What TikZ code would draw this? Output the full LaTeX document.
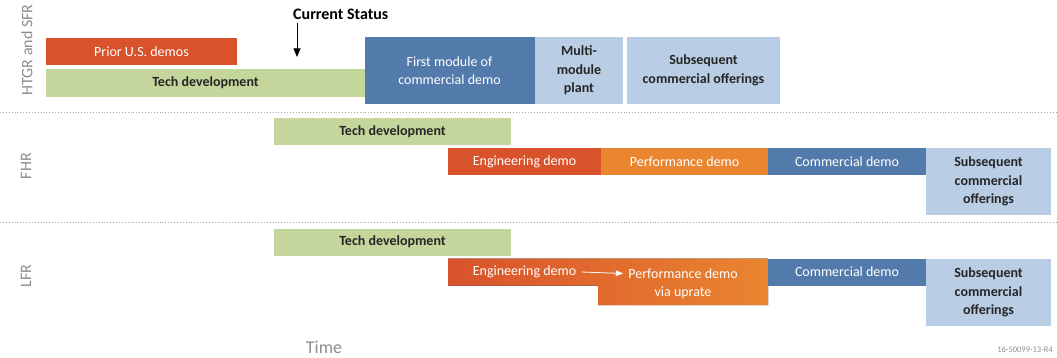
\documentclass[tikz,border=0pt]{standalone}
\usepackage{fontspec}
\setmainfont{Carlito}
\usepackage{xcolor}
\usetikzlibrary{arrows.meta,positioning}
\definecolor{demored}{RGB}{216,82,43}
\definecolor{perforange}{RGB}{234,133,48}
\definecolor{techgreen}{RGB}{196,214,155}
\definecolor{commblue}{RGB}{82,122,170}
\definecolor{offerblue}{RGB}{185,205,228}
\definecolor{labelgray}{RGB}{140,140,140}
\newcommand{\barfont}{\fontsize{14}{18.5}\selectfont}
\tikzset{
  phasebar/.style={rectangle, inner sep=0pt, outer sep=0pt, align=center, font=\barfont},
  techbar/.style={phasebar, fill=techgreen, text=black!85, font=\barfont\bfseries},
  redbar/.style={phasebar, fill=demored, text=white},
  orangebar/.style={phasebar, fill=perforange, text=white},
  bluebar/.style={phasebar, fill=commblue, text=white},
  offerbar/.style={phasebar, fill=offerblue, text=black!85, font=\barfont\bfseries},
  rowsep/.style={draw=black!35, dotted, line width=0.9pt},
}

\begin{document}
\begin{tikzpicture}[
    x=1pt, y=-1pt,
    rowlabel/.style={rotate=90, text=labelgray, font=\fontsize{16}{18}\selectfont, inner sep=0pt},
    statuslabel/.style={font=\fontsize{16}{18}\selectfont\bfseries, text=black, inner sep=0pt},
    statusarrow/.style={-{Triangle[length=3mm,width=2.4mm]}, draw=black, line width=0.9pt},
    shapetext/.style={text=white, font=\barfont, inner sep=5pt},
    uprarrow/.style={-{Triangle[length=2.6mm,width=2mm]}, draw=white, line width=0.8pt},
    timelabel/.style={text=labelgray, font=\fontsize{18}{20}\selectfont, inner sep=0pt},
    codelabel/.style={text=labelgray, font=\fontsize{8.5}{10}\selectfont, inner sep=0pt}
  ]
  \useasboundingbox (0,0) rectangle (1057,358);

  % ============ Row labels ============
  \node[rowlabel] (htgrlabel) at (27,50)  {HTGR and SFR};
  \node[rowlabel] (fhrlabel)  at (26,166) {FHR};
  \node[rowlabel] (lfrlabel)  at (26,276) {LFR};

  % ============ Row separators (dotted) ============
  \coordinate (sepaleft)  at (0,112);
  \coordinate (separight) at (1057,112);
  \coordinate (sepbleft)  at (0,222);
  \coordinate (sepbright) at (1057,222);
  \draw[rowsep] (sepaleft) -- (separight);
  \draw[rowsep] (sepbleft) -- (sepbright);

  % ============ Row 1: HTGR and SFR ============
  \node[redbar, minimum width=191pt, minimum height=27pt]   (htgrprior)  at (141.5,51.5) {Prior U.S.\ demos};
  \node[techbar, minimum width=319pt, minimum height=28pt]  (htgrtech)   at (205.5,83)   {Tech development};
  \node[bluebar, minimum width=170pt, minimum height=67pt]  (htgrfirst)  at (449.5,70.5) {First module of\\commercial demo};
  \node[offerbar, minimum width=88pt, minimum height=67pt]  (htgrmulti)  at (579,70.5)   {Multi-\\module\\plant};
  \node[offerbar, minimum width=153pt, minimum height=67pt] (htgrsubseq) at (703.5,70.5) {Subsequent\\commercial offerings};

  % current status marker
  \node[statuslabel, anchor=west] (status) at (293,14) {Current Status};
  \coordinate (statusfoot) at (297,23);
  \coordinate (statustip)  at (297,57);
  \draw[statusarrow] (statusfoot) -- (statustip);

  % ============ Row 2: FHR ============
  \node[techbar, minimum width=237pt, minimum height=27pt]   (fhrtech)   at (392.5,132)   {Tech development};
  \node[redbar, minimum width=153pt, minimum height=27pt]   (fhreng)    at (524.5,162)   {Engineering demo};
  \node[orangebar, minimum width=167pt, minimum height=27pt] (fhrperf)  at (684.5,162)   {Performance demo};
  \node[bluebar, minimum width=158pt, minimum height=27pt]  (fhrcomm)   at (847,162)     {Commercial demo};
  \node[offerbar, minimum width=125pt, minimum height=67pt] (fhrsubseq) at (988.5,181.5) {Subsequent\\commercial\\offerings};

  % ============ Row 3: LFR ============
  \node[techbar, minimum width=237pt, minimum height=27pt]  (lfrtech)   at (392.5,242)   {Tech development};

  % engineering demo stepping into performance demo (one shaded piece)
  \fill[left color=demored, right color=perforange]
    (448,258.5) -- (768,258.5) -- (768,305) -- (598,305) -- (598,285.5) -- (448,285.5) -- cycle;
  \node[shapetext] (lfreng)    at (524.5,272)   {Engineering demo};
  \node[shapetext] (lfrperf)   at (683,273.5)   {Performance demo};
  \node[shapetext] (lfruprate) at (683,292.5)   {via uprate};
  \draw[uprarrow] (lfreng.east) -- (lfrperf.west);

  \node[bluebar, minimum width=158pt, minimum height=27pt]  (lfrcomm)   at (847,272)     {Commercial demo};
  \node[offerbar, minimum width=125pt, minimum height=67pt] (lfrsubseq) at (988.5,292.5) {Subsequent\\commercial\\offerings};

  % ============ Axis and figure code ============
  \node[timelabel] (timeaxis) at (324,347) {Time};
  \node[codelabel, anchor=east] (figcode) at (1053,350) {16-50099-13-R4};

\end{tikzpicture}
\end{document}
